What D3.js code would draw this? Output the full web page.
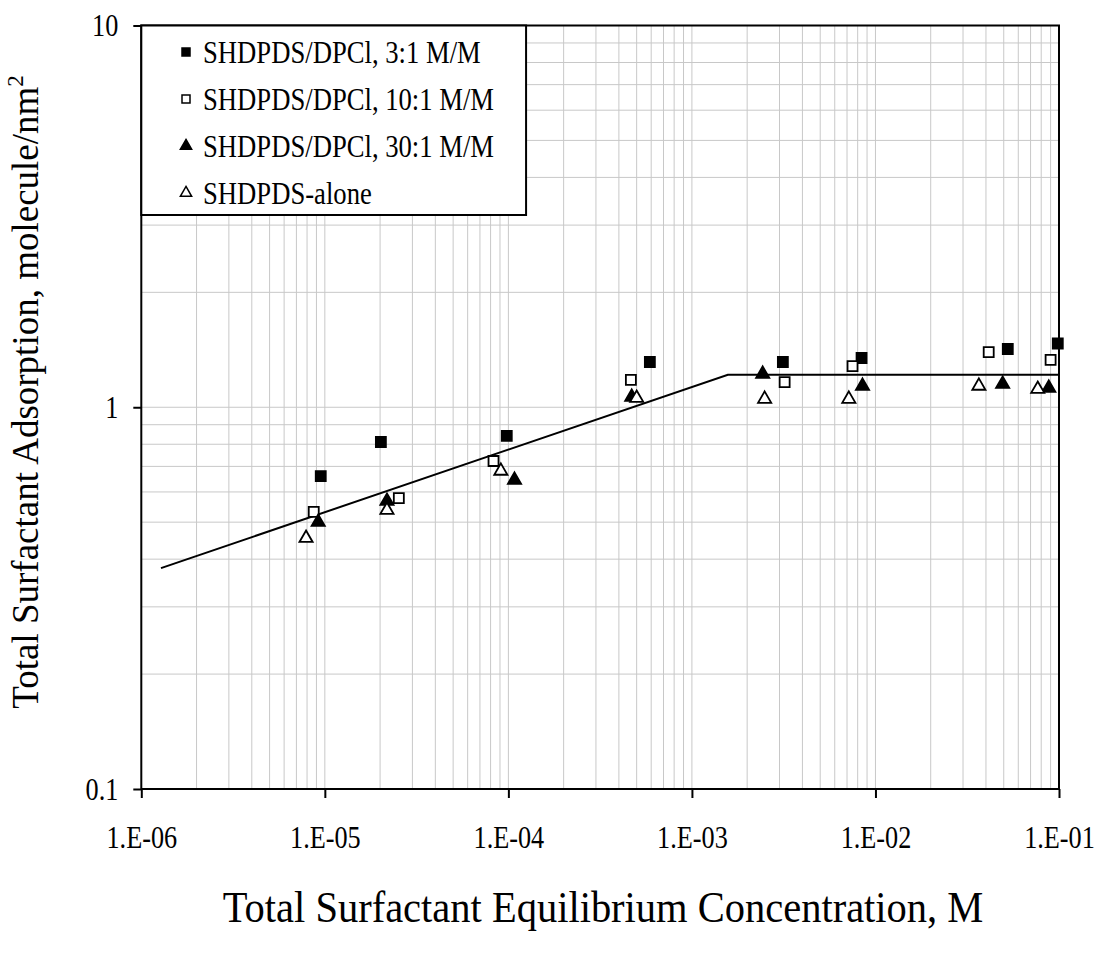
<!DOCTYPE html>
<html><head><meta charset="utf-8">
<script src="https://cdn.jsdelivr.net/npm/d3@7"></script>
<style>body{margin:0;background:#fff}svg{display:block}text{font-family:"Liberation Serif","Times New Roman",serif}</style>
</head><body><svg id="c" width="1099" height="953"></svg>
<script>
const seriesNames = ["SHDPDS/DPCl, 3:1 M/M","SHDPDS/DPCl, 10:1 M/M","SHDPDS/DPCl, 30:1 M/M","SHDPDS-alone"];
const s31x = [9.5e-6,2.02e-5,9.8e-5,5.9e-4,3.13e-3,8.4e-3,5.26e-2,9.85e-2];
const s31y = [0.660,0.811,0.841,1.314,1.314,1.346,1.421,1.469];
const s101x = [8.7e-6,2.53e-5,8.3e-5,4.65e-4,3.2e-3,7.5e-3,4.14e-2,9.0e-2];
const s101y = [0.532,0.578,0.723,1.179,1.164,1.282,1.395,1.330];
const s301x = [9.2e-6,2.18e-5,1.08e-4,4.7e-4,2.43e-3,8.5e-3,4.93e-2,8.8e-2];
const s301y = [0.500,0.568,0.645,1.064,1.222,1.137,1.150,1.123];
const alonex = [7.9e-6,2.18e-5,9.1e-5,5.0e-4,2.49e-3,7.16e-3,3.66e-2,7.66e-2];
const aloney = [0.454,0.538,0.681,1.057,1.051,1.051,1.137,1.116];
const fitx = [1.28e-6,1.57e-3,1e-1];
const fity = [0.379,1.217,1.217];
const xTicks = [1e-6,1e-5,1e-4,1e-3,1e-2,1e-1];
const xTickLabels = ["1.E-06","1.E-05","1.E-04","1.E-03","1.E-02","1.E-01"];
const yTicks = [0.1,1,10];
const yTickLabels = ["0.1","1","10"];

const svg = d3.select("#c");
const L=141.3,R=1059,T=25.5,B=789;
const K=0.82; // horizontal condensation of the lettering
const x = d3.scaleLog().domain([1e-6,1e-1]).range([L,R]);
const y = d3.scaleLog().domain([0.1,10]).range([B,T]);

const xg=[],yg=[];
for(let e=-6;e<-1;e++) for(let m=1;m<10;m++) xg.push(m*Math.pow(10,e));
for(let e=-1;e<1;e++) for(let m=1;m<10;m++) yg.push(+(m*Math.pow(10,e)).toPrecision(3));
const g = svg.append("g");
g.selectAll(".gx").data(xg.filter(v=>v>1e-6)).join("line").attr("x1",d=>x(d)).attr("x2",d=>x(d)).attr("y1",T).attr("y2",B).attr("stroke","#c8c8c8").attr("stroke-width",1);
g.selectAll(".gy").data(yg.filter(v=>v>0.1)).join("line").attr("y1",d=>y(d)).attr("y2",d=>y(d)).attr("x1",L).attr("x2",R).attr("stroke","#c8c8c8").attr("stroke-width",1);

svg.append("rect").attr("x",L).attr("y",T).attr("width",R-L).attr("height",B-T).attr("fill","none").attr("stroke","#000").attr("stroke-width",2);

const xAxis = d3.axisBottom(x).tickValues(xTicks).tickFormat((d,i)=>xTickLabels[i]).tickSize(9).tickPadding(27);
const ax = svg.append("g").attr("transform",`translate(0,${B})`).call(xAxis);
ax.attr("font-size",null).attr("font-family",null);
ax.select(".domain").remove();
ax.selectAll("line").attr("stroke","#000").attr("stroke-width",2);
ax.selectAll("text").style("font-size","32px").attr("fill","#000").attr("transform",`scale(${K},1)`);
const yAxis = d3.axisLeft(y).tickValues(yTicks).tickFormat((d,i)=>yTickLabels[i]).tickSize(8).tickPadding(15);
const ay = svg.append("g").attr("transform",`translate(${L},0)`).call(yAxis);
ay.attr("font-size",null).attr("font-family",null);
ay.select(".domain").remove();
ay.selectAll("line").attr("stroke","#000").attr("stroke-width",2);
ay.selectAll("text").style("font-size","32px").attr("fill","#000").attr("x",-23/K).attr("transform",`scale(${K},1)`);

svg.append("path").datum(fitx.map((v,i)=>[v,fity[i]])).attr("d",d3.line().x(d=>x(d[0])).y(d=>y(d[1]))).attr("fill","none").attr("stroke","#000").attr("stroke-width",2);

const sq = d3.symbol().type(d3.symbolSquare).size(100);
const tri = d3.symbol().type(d3.symbolTriangle).size(75);
const series = [
  {xs:s31x,ys:s31y,sym:sq,fill:"#000"},
  {xs:s101x,ys:s101y,sym:sq,fill:"#fff"},
  {xs:s301x,ys:s301y,sym:tri,fill:"#000"},
  {xs:alonex,ys:aloney,sym:tri,fill:"#fff"}
];
series.forEach(s=>{
  svg.append("g").selectAll("path").data(s.xs.map((v,i)=>[v,s.ys[i]])).join("path")
    .attr("d",s.sym()).attr("transform",d=>`translate(${x(d[0])},${y(d[1])})`)
    .attr("fill",s.fill).attr("stroke","#000").attr("stroke-width",1.8);
});

const lg = svg.append("g");
const rowY=[52,99,146,193];
const lbox = lg.append("rect").attr("x",L).attr("y",T).attr("fill","#fff").attr("stroke","#000").attr("stroke-width",2);
const lsq = d3.symbol().type(d3.symbolSquare).size(64);
const ltri = d3.symbol().type(d3.symbolTriangle).size(55);
const LK=0.86;
let maxW=0;
series.forEach((s,i)=>{
  lg.append("path").attr("d",(i<2?lsq:ltri)()).attr("transform",`translate(186,${rowY[i]})`).attr("fill",s.fill).attr("stroke","#000").attr("stroke-width",1.5);
  const t=lg.append("text").attr("transform",`translate(203,${rowY[i]}) scale(${LK},1)`).attr("dy","0.35em").style("font-size","31px").text(seriesNames[i]);
  maxW=Math.max(maxW,t.node().getComputedTextLength()*LK);
});
lbox.attr("width",203+maxW+32-L).attr("height",215-T);

svg.append("text").attr("transform",`translate(603,922) scale(0.9,1)`).attr("text-anchor","middle").style("font-size","45px").text("Total Surfactant Equilibrium Concentration, M");
const yt = svg.append("text").attr("transform",`translate(38,392) rotate(-90)`).attr("text-anchor","middle").style("font-size","37px");
yt.append("tspan").text("Total Surfactant Adsorption, molecule/nm");
yt.append("tspan").attr("dy",-15).style("font-size","23px").text("2");
</script></body></html>
